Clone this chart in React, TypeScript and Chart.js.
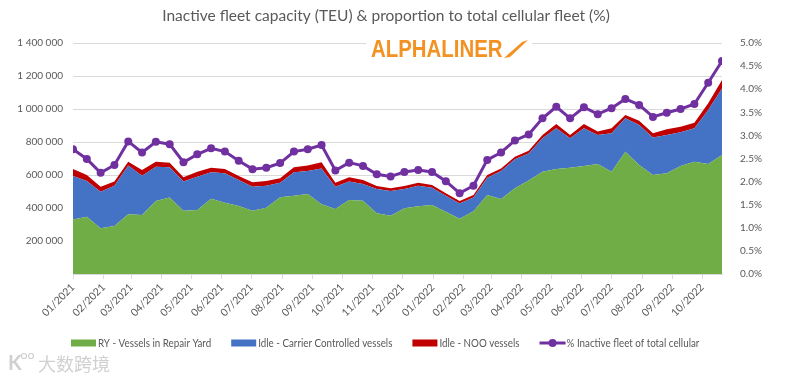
import React, { useEffect, useRef } from 'react';
import { Chart, registerables } from 'chart.js';

Chart.register(...registerables);

// Biweekly observation dates
const dates = [
  '2021-01-01', '2021-01-15', '2021-01-29', '2021-02-12', '2021-02-26', '2021-03-12',
  '2021-03-26', '2021-04-09', '2021-04-23', '2021-05-07', '2021-05-21', '2021-06-04',
  '2021-06-18', '2021-07-02', '2021-07-16', '2021-07-30', '2021-08-13', '2021-08-27',
  '2021-09-10', '2021-09-24', '2021-10-08', '2021-10-22', '2021-11-05', '2021-11-19',
  '2021-12-03', '2021-12-17', '2021-12-31', '2022-01-14', '2022-01-28', '2022-02-11',
  '2022-02-25', '2022-03-11', '2022-03-25', '2022-04-08', '2022-04-22', '2022-05-06',
  '2022-05-20', '2022-06-03', '2022-06-17', '2022-07-01', '2022-07-15', '2022-07-29',
  '2022-08-12', '2022-08-26', '2022-09-09', '2022-09-23', '2022-10-07', '2022-10-21',
];

// TEU
const repairYard = [
  331000, 347000, 277000, 291000, 362000, 358000, 442000, 463000, 384000, 388000, 456000, 432000,
  412000, 384000, 402000, 465000, 475000, 485000, 422000, 394000, 448000, 444000, 368000, 353000,
  398000, 410000, 418000, 378000, 335000, 380000, 479000, 455000, 519000, 566000, 620000, 636000,
  644000, 655000, 667000, 620000, 741000, 661000, 600000, 610000, 655000, 681000, 667000, 721000,
];
const idleCarrier = [
  263000, 217000, 222000, 244000, 295000, 238000, 208000, 184000, 176000, 202000, 160000, 178000,
  158000, 145000, 133000, 88000, 141000, 139000, 218000, 135000, 112000, 101000, 147000, 150000,
  117000, 125000, 105000, 97000, 93000, 83000, 105000, 169000, 176000, 165000, 202000, 247000,
  178000, 228000, 175000, 233000, 203000, 242000, 228000, 232000, 204000, 202000, 327000, 404000,
];
const idleNOO = [
  42000, 36000, 30000, 25000, 24000, 34000, 31000, 28000, 26000, 30000, 28000, 26000,
  24000, 27000, 29000, 27000, 31000, 33000, 37000, 24000, 26000, 25000, 18000, 16000,
  18000, 18000, 16000, 14000, 14000, 16000, 16000, 16000, 16000, 16000, 20000, 26000,
  20000, 26000, 21000, 30000, 20000, 26000, 25000, 35000, 34000, 34000, 41000, 51000,
];
// % of total cellular fleet
const inactivePct = [
  2.70, 2.49, 2.19, 2.36, 2.87, 2.63, 2.86, 2.81, 2.42, 2.59, 2.72, 2.65,
  2.45, 2.27, 2.30, 2.40, 2.65, 2.70, 2.79, 2.24, 2.41, 2.34, 2.16, 2.11,
  2.21, 2.25, 2.21, 2.01, 1.75, 1.91, 2.47, 2.63, 2.89, 3.02, 3.37, 3.62,
  3.37, 3.61, 3.46, 3.59, 3.79, 3.66, 3.40, 3.49, 3.57, 3.68, 4.14, 4.61,
];

const monthLabels = [
  '01/2021', '02/2021', '03/2021', '04/2021', '05/2021', '06/2021', '07/2021', '08/2021',
  '09/2021', '10/2021', '11/2021', '12/2021', '01/2022', '02/2022', '03/2022', '04/2022',
  '05/2022', '06/2022', '07/2022', '08/2022', '09/2022', '10/2022',
];

const seriesLabels = [
  'RY - Vessels in Repair Yard',
  'Idle - Carrier Controlled vessels',
  'Idle - NOO vessels',
  '% Inactive fleet of total cellular',
];

const TITLE = 'Inactive fleet capacity (TEU) & proportion to total cellular fleet (%)';
const LOGO = 'ALPHALINER';
const WATERMARK = '大数跨境';

const GREEN = '#70AD47';
const BLUE = '#4472C4';
const RED = '#C00000';
const PURPLE = '#7030A0';
const TEXT = '#595959';
const GRID = '#d9d9d9';
const FONT = 'Lato, "Noto Sans", sans-serif';

const DAY = 86400000;
const ORIGIN = Date.UTC(2021, 0, 1);
const dayOf = (iso: string) => {
  const [y, m, d] = iso.split('-').map(Number);
  return (Date.UTC(y, m - 1, d) - ORIGIN) / DAY;
};
const monthDay = (label: string) => {
  const [m, y] = label.split('/').map(Number);
  return (Date.UTC(y, m - 1, 1) - ORIGIN) / DAY;
};

const xs = dates.map(dayOf);
const monthTicks = monthLabels.map(monthDay);
const pts = (arr: number[]) => arr.map((v, i) => ({ x: xs[i], y: v }));
const fmtTEU = (v: number) => String(Math.round(v)).replace(/\B(?=(\d{3})+(?!\d))/g, ' ');

const decorPlugin = {
  id: 'decor',
  afterDraw(chart: any) {
    const { ctx, chartArea } = chart;
    ctx.save();
    // Title
    ctx.font = `15.5px ${FONT}`;
    ctx.fillStyle = TEXT;
    ctx.textAlign = 'center';
    ctx.textBaseline = 'middle';
    ctx.fillText(TITLE, 386, 16);

    // Logo (covers the top gridline)
    ctx.fillStyle = '#ffffff';
    ctx.fillRect(366, chartArea.top - 6, 166, 24);
    ctx.fillStyle = '#F39223';
    ctx.textAlign = 'left';
    ctx.textBaseline = 'alphabetic';
    ctx.save();
    ctx.translate(371, 57);
    ctx.scale(0.85, 1);
    ctx.font = `bold 24px "Liberation Sans", Arial, sans-serif`;
    ctx.fillText(LOGO, 0, 0);
    ctx.restore();
    ctx.beginPath();
    ctx.moveTo(504, 58);
    ctx.lineTo(510, 57);
    ctx.lineTo(528, 40);
    ctx.lineTo(522, 42);
    ctx.closePath();
    ctx.fill();

    // Legend
    const ds = chart.data.datasets;
    const y = 343;
    let x = 71;
    const sx = 0.89;
    ctx.font = `11px ${FONT}`;
    ctx.textBaseline = 'middle';
    ds.forEach((d: any, i: number) => {
      if (i < 3) {
        ctx.fillStyle = d.backgroundColor;
        ctx.fillRect(x, y - 3.5, 25, 7);
        x += 27;
      } else {
        ctx.strokeStyle = d.borderColor;
        ctx.lineWidth = 3;
        ctx.beginPath();
        ctx.moveTo(x, y);
        ctx.lineTo(x + 26, y);
        ctx.stroke();
        ctx.fillStyle = d.borderColor;
        ctx.beginPath();
        ctx.arc(x + 13, y, 4, 0, Math.PI * 2);
        ctx.fill();
        x += 27;
      }
      ctx.fillStyle = TEXT;
      ctx.save();
      ctx.translate(x, y);
      ctx.scale(sx, 1);
      ctx.fillText(d.label, 0, 0);
      ctx.restore();
      x += ctx.measureText(d.label).width * sx + 20;
    });

    // Watermark
    ctx.font = `18px "Noto Sans CJK SC", sans-serif`;
    ctx.fillStyle = 'rgba(170,170,170,0.55)';
    ctx.textBaseline = 'middle';
    ctx.fillText(WATERMARK, 38, 364);
    ctx.font = `bold 20px ${FONT}`;
    ctx.fillText('K', 8, 364);
    ctx.strokeStyle = 'rgba(170,170,170,0.55)';
    ctx.lineWidth = 1.2;
    ctx.beginPath();
    ctx.arc(24, 356, 2.5, 0, Math.PI * 2);
    ctx.stroke();
    ctx.beginPath();
    ctx.arc(31, 356, 2.5, 0, Math.PI * 2);
    ctx.stroke();
    ctx.restore();
  },
};

export default function App() {
  const ref = useRef<HTMLCanvasElement>(null);
  useEffect(() => {
    const tickFont = { family: FONT, size: 10 };
    const chart = new Chart(ref.current!, {
      type: 'line',
      data: {
        datasets: [
          {
            label: seriesLabels[0], data: pts(repairYard), yAxisID: 'y', order: 1,
            backgroundColor: GREEN, borderColor: GREEN, borderWidth: 0, pointRadius: 0, fill: 'origin',
          },
          {
            label: seriesLabels[1], data: pts(idleCarrier), yAxisID: 'y', order: 1,
            backgroundColor: BLUE, borderColor: BLUE, borderWidth: 0, pointRadius: 0, fill: '-1',
          },
          {
            label: seriesLabels[2], data: pts(idleNOO), yAxisID: 'y', order: 1,
            backgroundColor: RED, borderColor: RED, borderWidth: 0, pointRadius: 0, fill: '-1',
          },
          {
            label: seriesLabels[3], data: pts(inactivePct), yAxisID: 'y1', order: 0,
            backgroundColor: PURPLE, borderColor: PURPLE, borderWidth: 3,
            pointRadius: 4, pointHoverRadius: 4, pointBackgroundColor: PURPLE, pointBorderWidth: 0,
            fill: false,
          },
        ] as any,
      },
      options: {
        animation: false,
        responsive: false,
        events: [],
        layout: { padding: { top: 43, left: 0, right: 0, bottom: 0 } },
        plugins: { legend: { display: false }, title: { display: false }, tooltip: { enabled: false } },
        scales: {
          x: {
            type: 'linear',
            min: 0,
            max: xs[xs.length - 1],
            afterBuildTicks: (s: any) => { s.ticks = monthTicks.map((v) => ({ value: v })); },
            afterFit: (s: any) => { s.height = 108; },
            ticks: {
              autoSkip: false, minRotation: 45, maxRotation: 45, padding: 2,
              font: { family: FONT, size: 10.5 }, color: TEXT,
              callback: (v: any) => { const i = monthTicks.indexOf(Number(v)); return i >= 0 ? monthLabels[i] : ''; },
            },
            grid: { drawOnChartArea: false, drawTicks: true, tickLength: 5, color: GRID },
            border: { display: true, color: GRID },
          },
          y: {
            type: 'linear', position: 'left', stacked: true, min: 0, max: 1400000,
            afterFit: (s: any) => { s.width = 73; },
            ticks: {
              stepSize: 200000, padding: 10, font: tickFont, color: TEXT,
              callback: (v: any) => (Number(v) === 0 ? '' : fmtTEU(Number(v))),
            },
            grid: { color: GRID, drawTicks: false },
            border: { display: false },
          },
          y1: {
            type: 'linear', position: 'right', min: 0, max: 5,
            afterFit: (s: any) => { s.width = 74; },
            ticks: {
              stepSize: 0.5, padding: 10, font: tickFont, color: TEXT,
              callback: (v: any) => `${Number(v).toFixed(1)}%`,
            },
            grid: { display: false },
            border: { display: false },
          },
        } as any,
      },
      plugins: [decorPlugin],
    });
    return () => chart.destroy();
  }, []);
  return (
    <div style={{ position: 'absolute', left: 0, top: 0, width: 796, height: 382, background: '#ffffff' }}>
      <canvas ref={ref} width={796} height={382} style={{ display: 'block' }} />
    </div>
  );
}
